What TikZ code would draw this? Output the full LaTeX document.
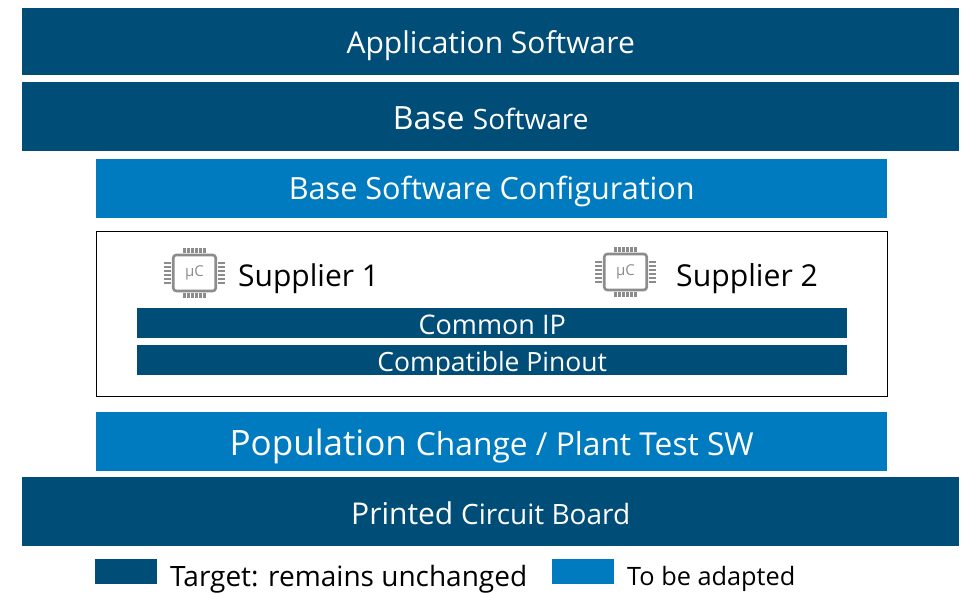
\documentclass[tikz,border=0pt]{standalone}
\usepackage{fontspec}
\setmainfont{Open Sans}
\usepackage{xcolor}
\definecolor{darkbar}{HTML}{004D78}
\definecolor{lightbar}{HTML}{007BC0}
\definecolor{chipgray}{HTML}{8C8C8C}
\tikzset{
  bar/.style={fill=#1,text=white,inner sep=0pt,anchor=north west,text depth=0pt},
  legendbox/.style={fill=#1,inner sep=0pt,anchor=north west},
  label/.style={inner sep=0pt,anchor=west,text=black},
}
\newcommand{\fs}[1]{\fontsize{#1}{#1}\selectfont}
% chip icon, centred at (#2,#3)
\newcommand{\chipicon}[3]{
  \node[draw=chipgray,line width=2.6pt,rounded corners=3pt,minimum width=42.5pt,minimum height=36pt,
    inner sep=0pt,text=chipgray] (#1) at (#2,#3) {\fs{15}µC};
  \foreach \i in {-10,-6,-2,2,6,10} {
    \draw[chipgray,line width=2.2pt] (#1.north) ++(\i,-1) -- ++(0,-4.5);
    \draw[chipgray,line width=2.2pt] (#1.south) ++(\i,1) -- ++(0,4.5);
    \draw[chipgray,line width=2.2pt] (#1.west) ++(-1,\i) -- ++(-6.5,0);
    \draw[chipgray,line width=2.2pt] (#1.east) ++(1,\i) -- ++(6.5,0);
  }
}
\begin{document}
\begin{tikzpicture}[x=1pt,y=-1pt]
        \useasboundingbox (0,0) rectangle (964,594);
        % layers
        \node[bar=darkbar,text height=23pt,minimum width=937pt,minimum height=67pt] (app) at (22,8) {\fs{30}Application Software};
        \node[bar=darkbar,text height=25pt,minimum width=937pt,minimum height=69pt] (base) at (22,82) {\fs{32}Base \fs{28}Software};
        \node[bar=lightbar,text height=22pt,minimum width=791pt,minimum height=59pt] (config) at (96,159) {\fs{30.6}Base Software Configuration};
        % controller box
        \node[draw=black,line width=1.3pt,inner sep=0pt,anchor=north west,minimum width=790.5pt,minimum height=165pt] (box) at (96,231) {};
        \chipicon{chipa}{194.5}{273}
        \chipicon{chipb}{625.5}{272}
        \node[label] (suppa) at (238,279) {\fs{30}Supplier 1};
        \node[label] (suppb) at (676,279) {\fs{30.2}Supplier 2};
        \node[bar=darkbar,text height=22pt,minimum width=710pt,minimum height=30pt] (ip) at (137,308) {\fs{27}Common IP};
        \node[bar=darkbar,text height=22pt,minimum width=710pt,minimum height=30pt] (pinout) at (137,345) {\fs{26.5}Compatible Pinout};
        % lower layers
        \node[bar=lightbar,text height=27pt,minimum width=791pt,minimum height=59pt] (popul) at (96,412) {\fs{35}Population \fs{31.7}Change / Plant Test SW};
        \node[bar=darkbar,text height=25pt,minimum width=937pt,minimum height=69pt] (pcb) at (22,477) {\fs{30}Printed \fs{28}Circuit Board};
        % legend
        \node[legendbox=darkbar,minimum width=62pt,minimum height=25pt] (keya) at (95,559) {};
        \node[label] (texta) at (170,579) {\fs{28}Target: remains unchanged};
        \node[legendbox=lightbar,minimum width=62pt,minimum height=25pt] (keyb) at (552,559) {};
        \node[label] (textb) at (627,579) {\fs{25.3}To be adapted};
    \end{tikzpicture}
\end{document}
